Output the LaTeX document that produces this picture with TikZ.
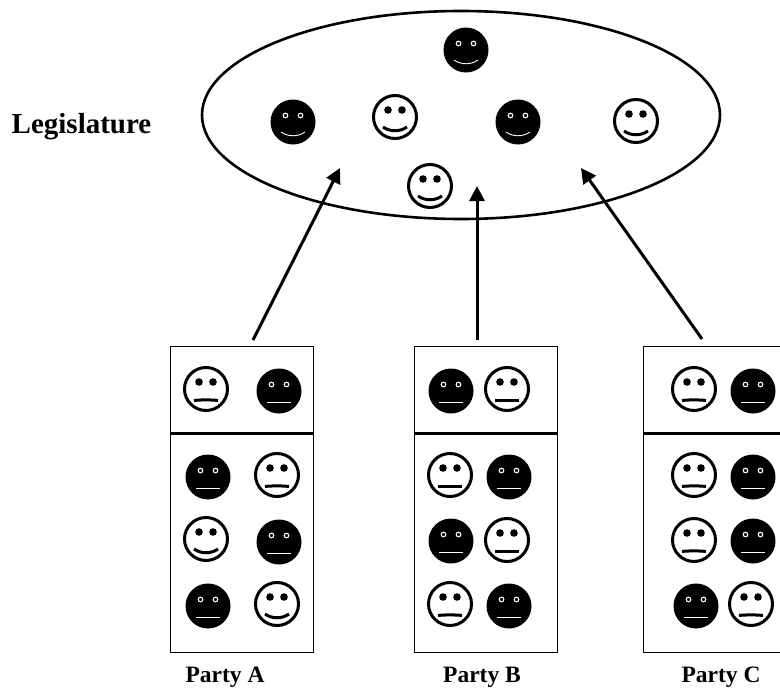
\documentclass[tikz,border=0pt]{standalone}
\usepackage{fontspec}
\setmainfont{Liberation Serif}
\usetikzlibrary{arrows.meta,shapes.geometric}
\tikzset{
  x=1pt,y=-1pt,
  smile/.code={\def\mouthpath{(-12,10) .. controls (-5,15) and (5,15) .. (12,10)}},
  flat/.code={\def\mouthpath{(-12,11) -- (12,11)}},
  sad/.code={\def\mouthpath{(-12,11.5) .. controls (-5,10.7) and (5,10.7) .. (12,11.5)}},
  whiteface/.style={#1,circle,draw=black,fill=white,line width=3pt,minimum size=43pt,inner sep=0pt,
    path picture={\begin{scope}[shift={(path picture bounding box.center)}]
      \fill[black] (-7,-7) circle[radius=3.8pt] (7,-7) circle[radius=3.8pt];
      \draw[black,line width=3pt] \mouthpath;
    \end{scope}}},
  blackface/.style={#1,circle,fill=black,minimum size=45pt,inner sep=0pt,
    path picture={\begin{scope}[shift={(path picture bounding box.center)}]
      \draw[white,line width=1.1pt] (-7.5,-6.5) circle[radius=2.3pt] (7.5,-6.5) circle[radius=2.3pt];
      \draw[white,line width=0.9pt,yshift=-1pt] \mouthpath;
    \end{scope}}},
  compart/.style={draw=black,line width=1.6pt,minimum width=143pt,inner sep=0pt,anchor=north west},
  divider/.style={draw=black,line width=3pt},
  house/.style={draw=black,line width=2.6pt,ellipse},
  label/.style={inner sep=0pt,text=black},
  link/.style={draw=black,line width=3pt,-{Triangle[length=15pt,width=15pt]}},
}
\begin{document}
\begin{tikzpicture}
\useasboundingbox (0,0) rectangle (780,688);
\clip (0,0) rectangle (780,688);
\node[house,minimum width=518pt,minimum height=208pt,inner sep=0pt] (leg) at (461,115) {};
\node[label,font=\bfseries\fontsize{29}{32}\selectfont] (legt) at (81.5,127) {Legislature};
% legislature members
\node[blackface=smile] (l1) at (466,50) {};
\node[blackface=smile] (l2) at (293,122) {};
\node[whiteface=smile] (l3) at (395,117) {};
\node[blackface=smile] (l4) at (518,122) {};
\node[whiteface=smile] (l5) at (636,121) {};
\node[whiteface=smile] (l6) at (430,186) {};
% party boxes
\foreach \n/\x in {a/169.5,b/413.5,c/642.5}{
  \node[compart,minimum height=86pt] (\n top) at (\x,345.5) {};
  \node[compart,minimum height=220pt] (\n low) at (\x,431.5) {};
  \draw[divider] (\n top.south west) -- (\n top.south east);
}
% Party A
\node[whiteface=sad] (a1) at (206,389) {};
\node[blackface=flat] (a2) at (279,391) {};
\node[blackface=flat] (a3) at (208,477) {};
\node[whiteface=sad] (a4) at (277,475) {};
\node[whiteface=smile] (a5) at (206,539) {};
\node[blackface=flat] (a6) at (279,542) {};
\node[blackface=flat] (a7) at (208,606) {};
\node[whiteface=smile] (a8) at (277,604) {};
% Party B
\node[blackface=flat] (b1) at (451,391) {};
\node[whiteface=flat] (b2) at (507,389) {};
\node[whiteface=flat] (b3) at (450,475) {};
\node[blackface=flat] (b4) at (509,477) {};
\node[blackface=flat] (b5) at (451,541) {};
\node[whiteface=flat] (b6) at (507,540) {};
\node[whiteface=sad] (b7) at (450,604) {};
\node[blackface=flat] (b8) at (509,606) {};
% Party C
\node[whiteface=sad] (c1) at (694,389) {};
\node[blackface=flat] (c2) at (753,391) {};
\node[whiteface=sad] (c3) at (694,475) {};
\node[blackface=flat] (c4) at (753,477) {};
\node[whiteface=sad] (c5) at (694,540) {};
\node[blackface=flat] (c6) at (753,541) {};
\node[blackface=flat] (c7) at (696,606) {};
\node[whiteface=sad] (c8) at (751,604) {};
% captions
\node[label,font=\bfseries\fontsize{23.5}{26}\selectfont] (ta) at (225,677) {Party A};
\node[label,font=\bfseries\fontsize{23.5}{26}\selectfont] (tb) at (482,677) {Party B};
\node[label,font=\bfseries\fontsize{23.5}{26}\selectfont] (tc) at (721,677) {Party C};
% connectors
\coordinate (as) at (253,340); \coordinate (ae) at (340,168);
\coordinate (bs) at (477,340); \coordinate (be) at (477,186);
\coordinate (cs) at (702,339); \coordinate (ce) at (581,168);
\draw[link] (as) -- (ae);
\draw[link] (bs) -- (be);
\draw[link] (cs) -- (ce);
\end{tikzpicture}
\end{document}
